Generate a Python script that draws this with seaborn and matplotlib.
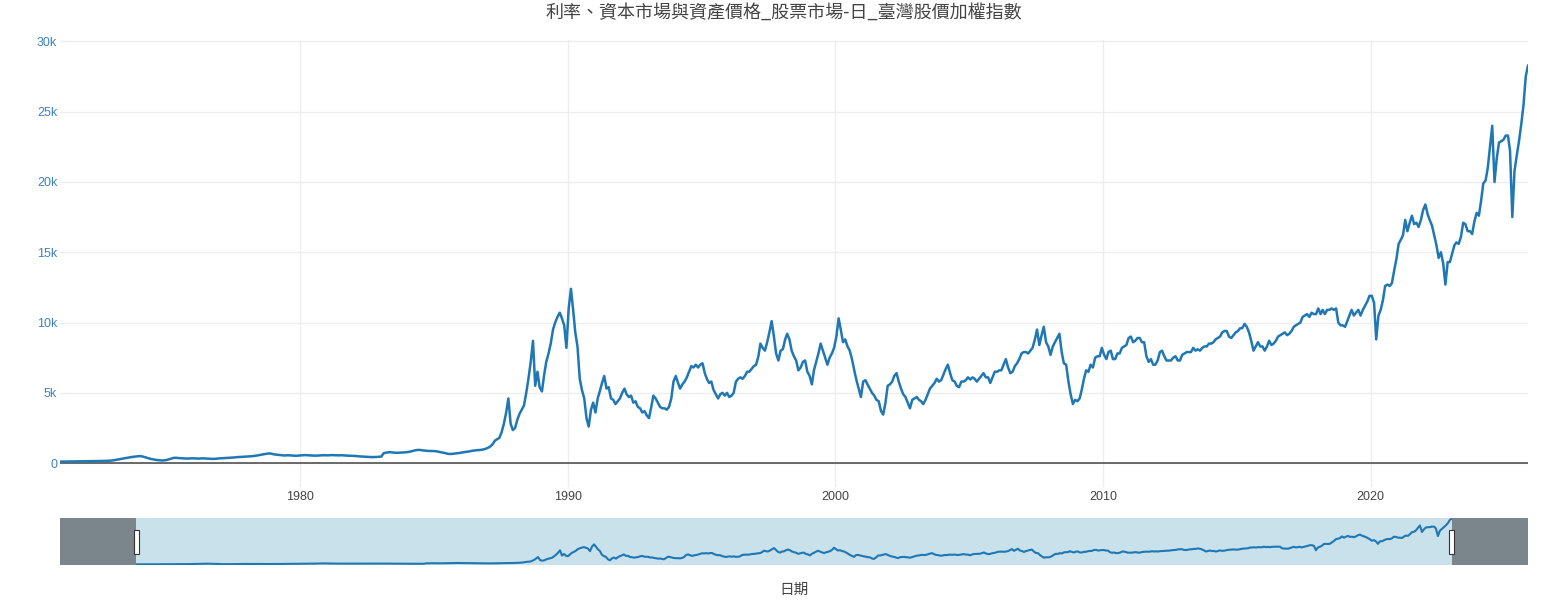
import numpy as np
import pandas as pd
import matplotlib
matplotlib.use("Agg")
import matplotlib.pyplot as plt
import matplotlib.dates as mdates
from matplotlib.patches import Rectangle
import seaborn as sns

# ---------------- data (monthly, mid-month) ----------------
title = "利率、資本市場與資產價格_股票市場-日_臺灣股價加權指數"
x_label = "日期"
start_month = "1971-01"
end_month = "2025-11"

vals_1970s = [
    105, 108, 110, 112, 115, 118, 120, 122, 125, 125, 128, 130,        # 1971
    132, 135, 138, 140, 142, 145, 148, 150, 155, 160, 170, 180,        # 1972
    200, 230, 260, 290, 320, 350, 380, 410, 430, 450, 470, 490,        # 1973
    500, 470, 430, 380, 330, 290, 260, 230, 210, 195, 190, 200,        # 1974
    230, 280, 330, 370, 380, 360, 350, 340, 330, 320, 330, 340,        # 1975
    340, 330, 320, 330, 340, 330, 320, 310, 300, 300, 310, 330,        # 1976
    340, 350, 360, 370, 380, 390, 400, 420, 430, 440, 450, 460,        # 1977
    470, 480, 490, 510, 530, 560, 590, 620, 650, 670, 690, 660,        # 1978
    620, 600, 580, 560, 550, 540, 560, 550, 540, 530, 520, 540,        # 1979
]
vals_1980s = [
    550, 560, 570, 560, 550, 540, 530, 530, 540, 550, 560, 560,        # 1980
    550, 560, 570, 560, 560, 550, 560, 550, 540, 530, 520, 520,        # 1981
    510, 500, 480, 470, 460, 450, 440, 430, 425, 430, 440, 450,        # 1982
    460, 700, 740, 760, 780, 760, 740, 730, 740, 750, 760, 770,        # 1983
    790, 820, 860, 900, 930, 940, 920, 900, 880, 870, 860, 860,        # 1984
    850, 830, 800, 770, 740, 700, 660, 650, 660, 680, 700, 720,        # 1985
    750, 780, 800, 820, 850, 880, 900, 920, 930, 950, 980, 1030,       # 1986
    1100, 1200, 1350, 1600, 1700, 1800, 2200, 2800, 3600, 4600, 2800, 2350,   # 1987
    2500, 3100, 3500, 3800, 4100, 5000, 6000, 7200, 8700, 5500, 6500, 5400,   # 1988
    5100, 6300, 7200, 7800, 8500, 9500, 10000, 10400, 10700, 10300, 9800, 8200,  # 1989
]
vals_1990s = [
    11000, 12400, 11000, 9300, 8300, 6000, 5200, 4600, 3200, 2600, 3800, 4300,   # 1990
    3600, 4600, 5100, 5700, 6200, 5300, 5400, 4600, 4500, 4200, 4400, 4600,      # 1991
    5000, 5300, 4900, 4700, 4800, 4300, 4400, 4000, 3900, 3600, 3700, 3400,      # 1992
    3200, 4000, 4800, 4600, 4300, 4000, 3900, 3900, 3800, 4000, 4600, 5800,      # 1993
    6200, 5700, 5300, 5600, 5800, 6100, 6500, 6900, 6800, 7000, 6800, 7000,      # 1994
    7100, 6400, 6000, 5700, 5800, 5200, 4900, 4600, 4900, 5000, 4800, 5000,      # 1995
    4700, 4800, 5000, 5800, 6000, 6100, 6000, 6200, 6500, 6500, 6700, 6900,      # 1996
    7000, 7600, 8500, 8200, 8000, 8600, 9300, 10100, 9000, 7800, 7300, 8000,     # 1997
    8100, 8800, 9200, 8800, 8000, 7600, 7300, 6600, 6800, 7200, 7300, 6500,      # 1998
    6200, 5600, 6600, 7200, 7800, 8500, 8000, 7500, 7000, 7500, 7800, 8200,      # 1999
]
vals_2000s = [
    9000, 10300, 9500, 8600, 8800, 8300, 8000, 7400, 6600, 5900, 5300, 4700,     # 2000
    5800, 5900, 5600, 5300, 5000, 4800, 4500, 4400, 3700, 3450, 4300, 5500,      # 2001
    5600, 5800, 6200, 6400, 5800, 5300, 4900, 4700, 4300, 3900, 4500, 4600,      # 2002
    4700, 4500, 4400, 4200, 4500, 4900, 5300, 5500, 5700, 6000, 5800, 5900,      # 2003
    6300, 6700, 7000, 6400, 5900, 5800, 5500, 5400, 5800, 5800, 5900, 6100,      # 2004
    5950, 6100, 6000, 5800, 6000, 6200, 6400, 6100, 6100, 5700, 6100, 6500,      # 2005
    6500, 6600, 6600, 7000, 7400, 6800, 6400, 6500, 6900, 7100, 7400, 7800,      # 2006
    7900, 7900, 7800, 8000, 8200, 8800, 9500, 8400, 9100, 9700, 8600, 8300,      # 2007
    7700, 8300, 8600, 8900, 9200, 7900, 7100, 7000, 5800, 4900, 4200, 4500,      # 2008
    4400, 4600, 5200, 6000, 6600, 6500, 7000, 6800, 7500, 7600, 7600, 8200,      # 2009
]
vals_2010s = [
    7700, 7400, 7900, 8000, 7400, 7400, 7800, 7800, 8200, 8300, 8400, 8900,      # 2010
    9000, 8600, 8700, 8900, 8900, 8600, 8600, 7600, 7200, 7400, 7000, 7000,      # 2011
    7300, 7900, 8000, 7600, 7300, 7300, 7300, 7500, 7600, 7300, 7300, 7700,      # 2012
    7800, 7900, 7900, 7900, 8200, 8000, 8100, 8000, 8200, 8300, 8300, 8500,      # 2013
    8500, 8600, 8800, 8900, 9000, 9300, 9400, 9400, 9000, 8900, 9100, 9300,      # 2014
    9400, 9600, 9600, 9900, 9700, 9300, 8700, 8000, 8300, 8600, 8300, 8300,      # 2015
    8000, 8300, 8700, 8400, 8500, 8700, 9000, 9100, 9200, 9300, 9100, 9200,      # 2016
    9400, 9700, 9800, 9900, 10000, 10400, 10500, 10600, 10400, 10700, 10600, 10600,  # 2017
    11000, 10600, 10900, 10600, 10900, 10900, 11000, 10900, 11000, 10000, 9800, 9800,  # 2018
    9700, 10100, 10500, 10900, 10500, 10700, 10900, 10500, 10900, 11200, 11500, 11900,  # 2019
]
vals_2020s = [
    11900, 11400, 8800, 10500, 10900, 11600, 12600, 12700, 12600, 12800, 13700, 14500,   # 2020
    15600, 15900, 16200, 17300, 16500, 17100, 17600, 17000, 17100, 16800, 17300, 18000,  # 2021
    18400, 17700, 17300, 16900, 16200, 15500, 14600, 15000, 14200, 12700, 14300, 14300,  # 2022
    14900, 15500, 15700, 15600, 16100, 17100, 17000, 16500, 16500, 16300, 17200, 17800,  # 2023
    17600, 18700, 19900, 20100, 21000, 22500, 24000, 20000, 21700, 22800, 22900, 23000,  # 2024
    23300, 23300, 22200, 17500, 20800, 21900, 22900, 24100, 25500, 27500, 28300,         # 2025
]
y_ticks = [0, 5000, 10000, 15000, 20000, 25000, 30000]
y_tick_labels = ["0", "5k", "10k", "15k", "20k", "25k", "30k"]
x_tick_years = [1980, 1990, 2000, 2010, 2020]

values = vals_1970s + vals_1980s + vals_1990s + vals_2000s + vals_2010s + vals_2020s
dates = pd.date_range(start_month, end_month, freq="MS") + pd.Timedelta(days=14)
df = pd.DataFrame({"date": dates[: len(values)], "value": values})

# ---------------- style ----------------
sns.set_style("white")
plt.rcParams["font.family"] = ["Noto Sans CJK TC", "DejaVu Sans"]

LINE = "#1f77b4"
W, H = 1568, 600
fig = plt.figure(figsize=(W / 100, H / 100), dpi=100)

L, R = 60, 1528
ax = fig.add_axes([L / W, 1 - 487 / H, (R - L) / W, (487 - 40) / H])
ax_s = fig.add_axes([L / W, 1 - 565 / H, (R - L) / W, 47 / H])

# main line
sns.lineplot(data=df, x="date", y="value", ax=ax, color=LINE, linewidth=1.8)
x0, x1 = df["date"].min(), df["date"].max()
ax.set_xlim(x0, x1)
ax.set_ylim(-1700, 30100)
ax.set_xlabel("")
ax.set_ylabel("")
for s in ax.spines.values():
    s.set_visible(False)
ax.set_yticks(y_ticks)
ax.set_yticklabels(y_tick_labels)
ax.set_xticks([pd.Timestamp(f"{y}-01-01") for y in x_tick_years])
ax.set_xticklabels([str(y) for y in x_tick_years])
ax.grid(True, color="#eeeeee", linewidth=1.0)
ax.set_axisbelow(True)
ax.axhline(0, color="#444444", linewidth=1.1, zorder=1.5)
ax.tick_params(axis="y", length=0, pad=2, labelsize=9, labelcolor="#3b82be")
ax.tick_params(axis="x", length=0, pad=3, labelsize=9, labelcolor="#444444")
for lab in ax.get_xticklabels() + ax.get_yticklabels():
    lab.set_family(["Liberation Sans", "DejaVu Sans"])

fig.text(0.5, 1 - 13 / H, title, ha="center", va="center", fontsize=13, color="#444444")
fig.text((L + R) / 2 / W, 1 - 590 / H, x_label, ha="center", va="center",
         fontsize=10.5, color="#444444")

# range slider
ax_s.set_facecolor("#c8e1ea")
sns.lineplot(data=df, x="date", y="value", ax=ax_s, color=LINE, linewidth=1.5)
pad = pd.Timedelta(days=int(3.17 * 365.25))
s_lo, s_hi = x0 - pad, x1 + pad
ax_s.set_xlim(s_lo, s_hi)
ax_s.set_ylim(-300, 28600)
ax_s.axvspan(s_lo, x0, color="#7b868c", zorder=3, linewidth=0)
ax_s.axvspan(x1, s_hi, color="#7b868c", zorder=3, linewidth=0)
ax_s.set_xticks([])
ax_s.set_yticks([])
ax_s.set_xlabel("")
ax_s.set_ylabel("")
for s in ax_s.spines.values():
    s.set_visible(False)

# handles
fig.canvas.draw()
for xd in (x0, x1):
    px, py = ax_s.transData.transform((mdates.date2num(xd), 0))
    top = ax_s.transAxes.transform((0, 0.5))[1]
    rect = Rectangle((px - 2.5, top - 12), 5, 24, transform=None,
                     facecolor="white", edgecolor="#333333", linewidth=0.8, zorder=5)
    fig.add_artist(rect)

fig.savefig("out.png", dpi=100)
